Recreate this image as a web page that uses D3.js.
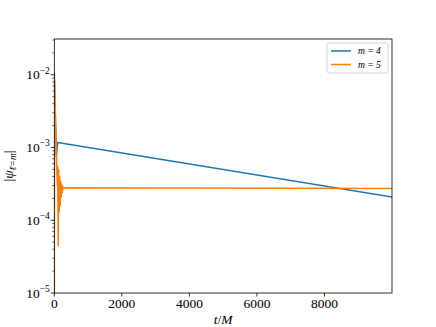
<!DOCTYPE html>
<html>
<head>
<meta charset="utf-8">
<script src="https://cdn.jsdelivr.net/npm/d3@7"></script>
<style>
  body { margin: 0; background: #fff; }
  text { font-family: "Liberation Serif", "DejaVu Serif", serif; }
</style>
</head>
<body>
<script>
// data
var tBlue = [0, 60, 100, 10000];
var psiBlue = [1.07e-2, 7.5e-4, 1.17e-3, 2.08e-4];

var tOrange = [0, 8, 40, 70, 90, 100, 115, 130, 145, 160, 175, 190, 205, 220, 235, 250, 270, 300, 10000];
var psiOrange = [1e-6, 8.5e-3, 2e-3, 6e-4, 3e-4, 5.5e-4, 4.5e-5, 5e-4, 1.3e-4, 4e-4, 1.6e-4, 3.4e-4, 2.1e-4, 3.1e-4, 2.4e-4, 2.9e-4, 2.7e-4, 2.8e-4, 2.74e-4];

var xTicks = [0, 2000, 4000, 6000, 8000];
var yTickExps = [-5, -4, -3, -2];
var legendLabels = ["m = 4", "m = 5"];
var colors = ["#1f77b4", "#ff7f0e"];

// Set the dimensions of the canvas / graph
var margin = {top: 39, right: 44, bottom: 34, left: 54.3},
    width = 436 - margin.left - margin.right,
    height = 327 - margin.top - margin.bottom;

var x = d3.scaleLinear().domain([0, 10000]).range([0, width]);
var y = d3.scaleLog().domain([1e-5, 3.1e-2]).range([height, 0]);

var svg = d3.select("body")
    .append("svg")
        .attr("width", 436)
        .attr("height", 327)
    .append("g")
        .attr("transform", "translate(" + margin.left + "," + margin.top + ")");

svg.append("clipPath")
    .attr("id", "clip")
    .append("rect")
    .attr("width", width)
    .attr("height", height);

var line = d3.line()
    .x(function(d) { return x(d[0]); })
    .y(function(d) { return y(d[1]); });

var series = [d3.zip(tBlue, psiBlue), d3.zip(tOrange, psiOrange)];
series.forEach(function(s, i) {
    svg.append("path")
        .attr("clip-path", "url(#clip)")
        .attr("d", line(s))
        .attr("fill", "none")
        .attr("stroke", colors[i])
        .attr("stroke-width", 1.5)
        .attr("stroke-linejoin", "round");
});

// x axis ticks
var xAxis = svg.append("g").attr("transform", "translate(0," + height + ")");
xTicks.forEach(function(t) {
    xAxis.append("line")
        .attr("x1", x(t)).attr("x2", x(t))
        .attr("y1", 0).attr("y2", 3.5)
        .attr("stroke", "#000").attr("stroke-width", 0.8);
    xAxis.append("text")
        .attr("x", x(t)).attr("y", 14.5)
        .attr("text-anchor", "middle")
        .attr("font-size", 13.5)
        .text(t);
});

// y axis ticks (major + minor)
var yAxis = svg.append("g");
yTickExps.forEach(function(e) {
    var v = Math.pow(10, e);
    yAxis.append("line")
        .attr("x1", -3.5).attr("x2", 0)
        .attr("y1", y(v)).attr("y2", y(v))
        .attr("stroke", "#000").attr("stroke-width", 0.8);
    var lab = yAxis.append("text")
        .attr("x", -4.5).attr("y", y(v) + 4.5)
        .attr("text-anchor", "end")
        .attr("font-size", 13.5);
    lab.append("tspan").text("10");
    lab.append("tspan").attr("dy", -5.5).attr("font-size", 9.5).text("\u2212" + (-e));
    for (var k = 2; k <= 9; k++) {
        var mv = k * v;
        if (mv > y.domain()[1]) break;
        yAxis.append("line")
            .attr("x1", -2).attr("x2", 0)
            .attr("y1", y(mv)).attr("y2", y(mv))
            .attr("stroke", "#000").attr("stroke-width", 0.6);
    }
});

// frame
svg.append("rect")
    .attr("width", width)
    .attr("height", height)
    .attr("fill", "none")
    .attr("stroke", "#000")
    .attr("stroke-width", 0.8);

// axis labels
var yl = svg.append("text")
    .attr("transform", "translate(" + (13 - margin.left) + "," + (height / 2) + ") rotate(-90)")
    .attr("text-anchor", "middle")
    .attr("font-size", 13.5);
yl.append("tspan").text("|");
yl.append("tspan").attr("font-style", "italic").text("\u03c8");
yl.append("tspan").attr("font-style", "italic").attr("font-size", 9.5).attr("dy", 3).text("\u2113=m");
yl.append("tspan").attr("dy", -3).text("|");

var xl = svg.append("text")
    .attr("x", width / 2)
    .attr("y", height + 31)
    .attr("text-anchor", "middle")
    .attr("font-size", 13.5);
xl.append("tspan").attr("font-style", "italic").text("t");
xl.append("tspan").text("/");
xl.append("tspan").attr("font-style", "italic").text("M");

// legend
var legend = svg.append("g").attr("transform", "translate(" + (327 - margin.left) + "," + (43 - margin.top) + ")");
legend.append("rect")
    .attr("width", 61).attr("height", 30)
    .attr("rx", 2)
    .attr("fill", "#fff")
    .attr("stroke", "#ccc")
    .attr("stroke-width", 0.8);
legendLabels.forEach(function(l, i) {
    legend.append("line")
        .attr("x1", 4).attr("x2", 24)
        .attr("y1", 8 + i * 13.5).attr("y2", 8 + i * 13.5)
        .attr("stroke", colors[i]).attr("stroke-width", 1.5);
    legend.append("text")
        .attr("x", 31).attr("y", 11 + i * 13.5)
        .attr("font-size", 9.5)
        .attr("font-style", "italic")
        .text(l);
});
</script>
</body>
</html>
